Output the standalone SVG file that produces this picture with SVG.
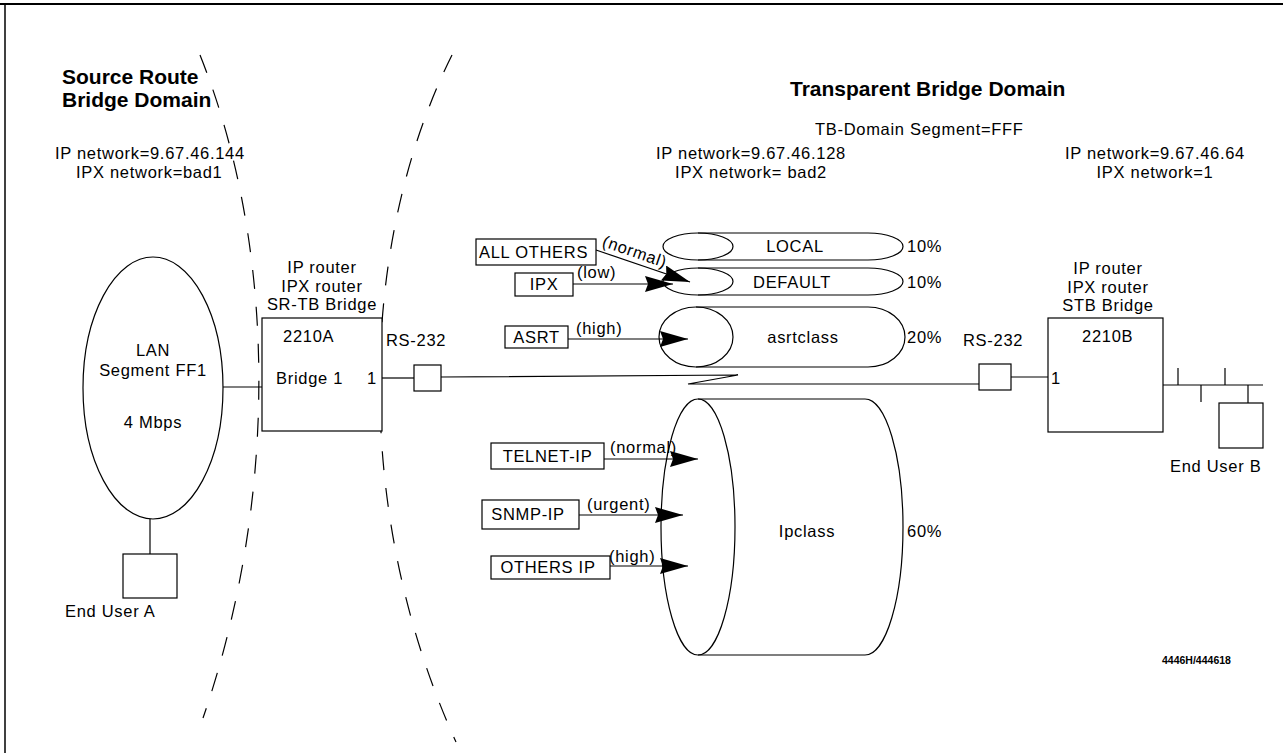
<svg xmlns="http://www.w3.org/2000/svg" width="1283" height="753" viewBox="0 0 1283 753">
<style>
text{font-family:"Liberation Sans",Arial,sans-serif;font-size:16.5px;letter-spacing:0.7px;fill:#000}
.b{font-weight:bold;font-size:21px;letter-spacing:0}
.m{text-anchor:middle}
.s{fill:none;stroke:#000;stroke-width:1.2}
.box{fill:#fff;stroke:#000;stroke-width:1.2}
.dash{fill:none;stroke:#000;stroke-width:1.2;stroke-dasharray:19 18}
</style>
<defs>
<marker id="ah" markerUnits="userSpaceOnUse" markerWidth="30" markerHeight="18" refX="28" refY="8" orient="auto">
<path d="M0,0 L28,8 L0,16 L3,8 z" fill="#000"/>
</marker>
</defs>
<rect width="1283" height="753" fill="#fff"/>
<g id="frame">
<line x1="0" y1="4" x2="1283" y2="4" stroke="#000" stroke-width="2"/>
<line x1="5" y1="4" x2="5" y2="753" stroke="#000" stroke-width="1.5"/>
</g>
<g id="domains">
<path class="dash" d="M200,55 C278,250 278,500 203,718"/>
<path class="dash" d="M452,55 C355,250 355,520 456,742"/>
<text class="b" x="62" y="84">Source Route</text>
<text class="b" x="62" y="107">Bridge Domain</text>
<text class="b" x="790" y="96">Transparent Bridge Domain</text>
<text x="815" y="135">TB-Domain Segment=FFF</text>
<text x="55" y="159">IP network=9.67.46.144</text>
<text x="76" y="177.5">IPX network=bad1</text>
<text class="m" x="751" y="159">IP network=9.67.46.128</text>
<text class="m" x="751" y="177.5">IPX network= bad2</text>
<text class="m" x="1155" y="159">IP network=9.67.46.64</text>
<text class="m" x="1155" y="177.5">IPX network=1</text>
</g>
<g id="connectors">
<line class="s" x1="223" y1="387" x2="262" y2="387"/>
<line class="s" x1="150" y1="519" x2="150" y2="554"/>
<line class="s" x1="382" y1="378" x2="414" y2="378"/>
<polyline class="s" points="441,377 738,375 688,384 979,384"/>
<line class="s" x1="1011" y1="377" x2="1048" y2="377"/>
<line class="s" x1="1163" y1="385" x2="1263" y2="385"/>
<line class="s" x1="1178" y1="368" x2="1178" y2="385"/>
<line class="s" x1="1225" y1="368" x2="1225" y2="385"/>
<line class="s" x1="1201" y1="385" x2="1201" y2="402"/>
<line class="s" x1="1248" y1="385" x2="1248" y2="403"/>
<line class="s" x1="596" y1="250" x2="690" y2="282" marker-end="url(#ah)"/>
<line class="s" x1="573" y1="284" x2="673" y2="284" marker-end="url(#ah)"/>
<line class="s" x1="568" y1="339" x2="688" y2="339" marker-end="url(#ah)"/>
<line class="s" x1="604" y1="459" x2="698" y2="459" marker-end="url(#ah)"/>
<line class="s" x1="579" y1="515" x2="683" y2="515" marker-end="url(#ah)"/>
<line class="s" x1="610" y1="566" x2="688" y2="566" marker-end="url(#ah)"/>
<text transform="rotate(19 633 257)" class="m" x="633" y="257">(normal)</text>
<text x="577" y="278">(low)</text>
<text x="576" y="334">(high)</text>
<text x="610" y="453">(normal)</text>
<text x="587" y="510">(urgent)</text>
<text x="609" y="562">(high)</text>
</g>
<g id="lan">
<ellipse class="s" cx="153" cy="388" rx="70" ry="131"/>
<text class="m" x="153" y="356">LAN</text>
<text class="m" x="153" y="376">Segment FF1</text>
<text class="m" x="153" y="428">4 Mbps</text>
</g>
<g id="end-user-a">
<rect class="box" x="123" y="554" width="54" height="44"/>
<text x="65" y="617">End User A</text>
</g>
<g id="router-2210a">
<text class="m" x="322" y="273">IP router</text>
<text class="m" x="322" y="291.5">IPX router</text>
<text class="m" x="322" y="310">SR-TB Bridge</text>
<rect class="box" x="262" y="318" width="120" height="113"/>
<text x="283" y="342">2210A</text>
<text x="276" y="384">Bridge 1</text>
<text x="367" y="384">1</text>
</g>
<g id="rs232-a">
<text x="386" y="346">RS-232</text>
<rect class="box" x="414" y="365" width="27" height="26"/>
</g>
<g id="rs232-b">
<text x="963" y="346">RS-232</text>
<rect class="box" x="979" y="364" width="32" height="26"/>
</g>
<g id="router-2210b">
<text class="m" x="1108" y="274">IP router</text>
<text class="m" x="1108" y="292.5">IPX router</text>
<text class="m" x="1108" y="311">STB Bridge</text>
<rect class="box" x="1048" y="318" width="115" height="114"/>
<text x="1082" y="342">2210B</text>
<text x="1051" y="384">1</text>
</g>
<g id="end-user-b">
<rect class="box" x="1219" y="403" width="44" height="45"/>
<text x="1170" y="472">End User B</text>
</g>
<g id="queue-local">
<path class="s" d="M698,233 L868,233 A35,13.5 0 0 1 868,260 L698,260"/>
<ellipse class="s" cx="698" cy="246.5" rx="35" ry="13.5"/>
<text class="m" x="795" y="252">LOCAL</text>
<text x="907" y="252">10%</text>
</g>
<g id="queue-default">
<path class="s" d="M698,268 L868,268 A35,13.5 0 0 1 868,295 L698,295"/>
<ellipse class="s" cx="698" cy="281.5" rx="35" ry="13.5"/>
<text class="m" x="792" y="288">DEFAULT</text>
<text x="907" y="288">10%</text>
</g>
<g id="queue-asrtclass">
<path class="s" d="M696,307 L868,307 A37,30 0 0 1 868,367 L696,367"/>
<ellipse class="s" cx="696" cy="337" rx="37" ry="30"/>
<text class="m" x="803" y="343">asrtclass</text>
<text x="907" y="343">20%</text>
</g>
<g id="queue-ipclass">
<path class="s" d="M698,399 L865,399 A38,128 0 0 1 865,655 L698,655"/>
<ellipse class="s" cx="698" cy="527" rx="37" ry="128"/>
<text class="m" x="807" y="537">Ipclass</text>
<text x="907" y="537">60%</text>
</g>
<g id="src-all-others">
<rect class="box" x="476" y="239" width="120" height="26"/>
<text x="479" y="258">ALL OTHERS</text>
</g>
<g id="src-ipx">
<rect class="box" x="515" y="273" width="58" height="23"/>
<text class="m" x="544" y="290">IPX</text>
</g>
<g id="src-asrt">
<rect class="box" x="505" y="326" width="63" height="22"/>
<text class="m" x="536.5" y="343">ASRT</text>
</g>
<g id="src-telnet">
<rect class="box" x="491" y="443" width="113" height="26"/>
<text class="m" x="547.5" y="462">TELNET-IP</text>
</g>
<g id="src-snmp">
<rect class="box" x="482" y="500" width="97" height="29"/>
<text class="m" x="528" y="520">SNMP-IP</text>
</g>
<g id="src-others-ip">
<rect class="box" x="491" y="556" width="119" height="23"/>
<text class="m" x="548" y="573">OTHERS IP</text>
</g>
<text x="1162" y="664" style="font-size:10.5px;font-weight:bold;letter-spacing:0">4446H/444618</text>
</svg>
